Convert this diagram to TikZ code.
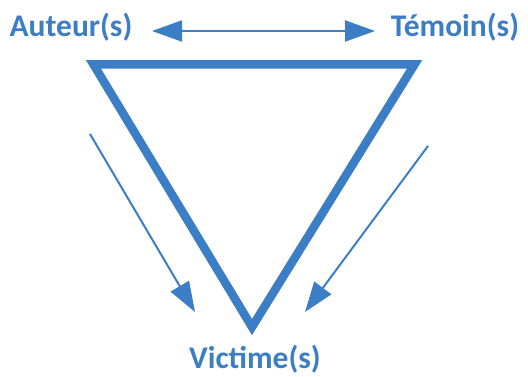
\documentclass[tikz,border=0pt]{standalone}
\usepackage{fontspec}
\setmainfont{Carlito}
\usetikzlibrary{arrows.meta}
\definecolor{blu}{RGB}{59,126,197}
\begin{document}
\begin{tikzpicture}[x=1pt,y=-1pt,
  lbl/.style={text=blu,font=\bfseries\fontsize{31.5}{31.5}\selectfont,inner sep=0pt},
  arr/.style={draw=blu,line width=2pt,-{Triangle[length=30pt,width=21pt]}},
  tri/.style={draw=blu,line width=8.5pt,line join=miter}]
\useasboundingbox (0,0) rectangle (528,377);
\node[lbl,anchor=base] (aut) at (71,37) {Auteur(s)};
\node[lbl,anchor=base] (tem) at (455,37) {Témoin(s)};
\node[lbl,anchor=base] (vic) at (255,368) {Victime(s)};
\coordinate (hl) at (152,31);
\coordinate (hr) at (375,31);
\draw[arr,{Triangle[length=30pt,width=21pt]}-{Triangle[length=30pt,width=21pt]}] (hl) -- (hr);
\coordinate (t1) at (93.5,64.5);
\coordinate (t2) at (414.5,64.5);
\coordinate (t3) at (252,327);
\draw[tri] (t1) -- (t2) -- (t3) -- cycle;
\coordinate (la) at (90,134);
\coordinate (lb) at (195,312);
\coordinate (ra) at (428,146);
\coordinate (rb) at (305,312);
\draw[arr] (la) -- (lb);
\draw[arr] (ra) -- (rb);
\end{tikzpicture}
\end{document}
